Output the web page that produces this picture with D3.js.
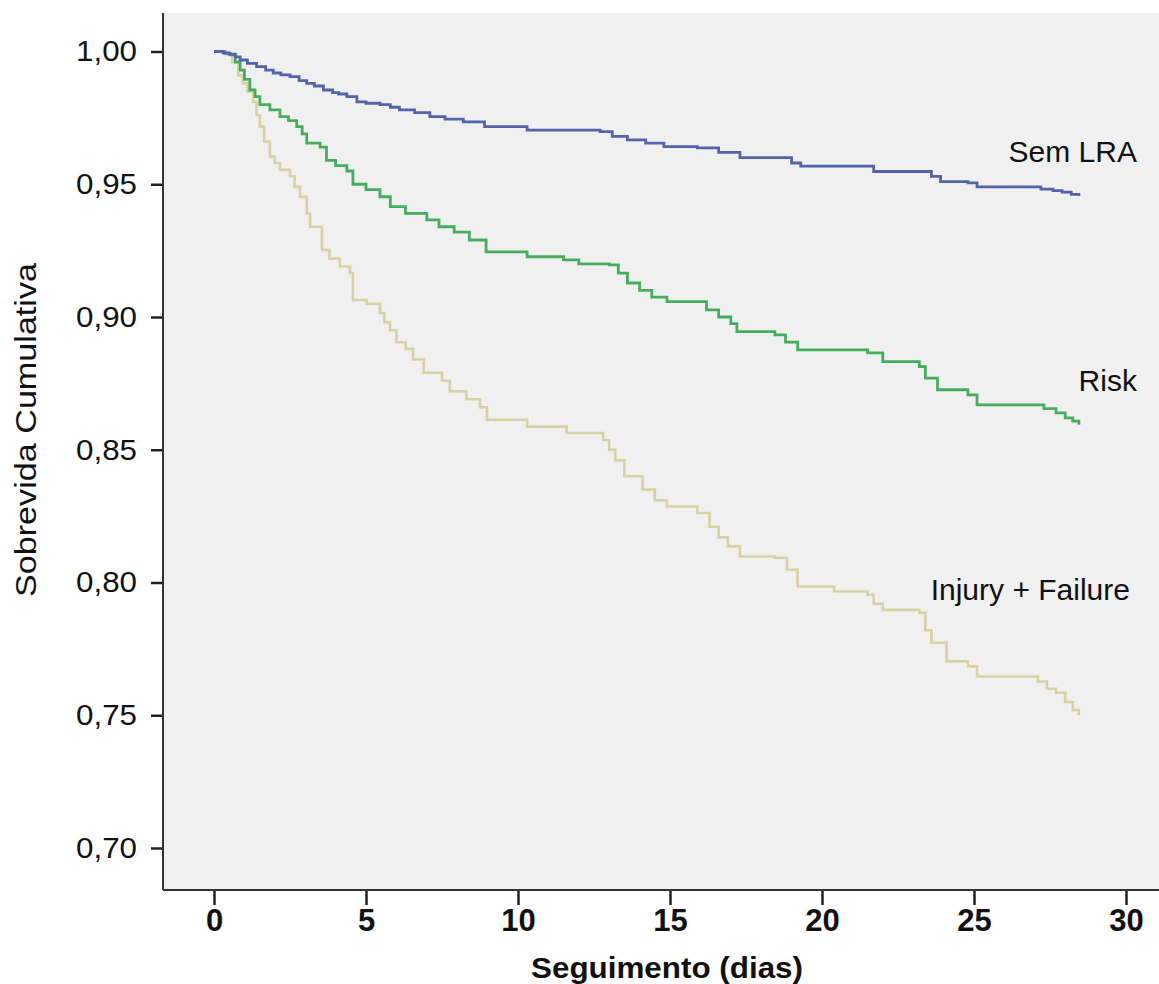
<!DOCTYPE html>
<html>
<head>
<meta charset="utf-8">
<script src="https://cdn.jsdelivr.net/npm/d3@7"></script>
<style>
  body { margin: 0; background: #fff; }
  text { font-family: Arial, "Liberation Sans", sans-serif; fill: #111; }
</style>
</head>
<body>
<div id="chart"></div>
<script>
// Kaplan-Meier curves, values
var semTime = [0, 0.3, 0.5, 0.7, 0.86, 1.1, 1.4, 1.7, 1.95, 2.2, 2.5, 2.8, 3.05, 3.3, 3.6, 3.9, 4.1, 4.37, 4.7, 5.0, 5.46, 5.8, 6.1, 6.6, 7.1, 7.6, 8.2, 8.9, 10.3, 12.7, 13.1, 13.6, 14.2, 14.8, 15.9, 16.6, 17.3, 19.0, 19.3, 21.7, 23.6, 23.9, 24.8, 25.1, 27.2, 27.6, 27.9, 28.2, 28.45];
var semSurv = [1.000, 0.9995, 0.999, 0.998, 0.9968, 0.9955, 0.9943, 0.993, 0.9919, 0.9912, 0.9905, 0.989, 0.988, 0.987, 0.9855, 0.9845, 0.984, 0.983, 0.981, 0.9805, 0.980, 0.979, 0.978, 0.977, 0.9755, 0.9745, 0.9735, 0.9717, 0.9704, 0.9698, 0.968, 0.9667, 0.9655, 0.9642, 0.9637, 0.962, 0.960, 0.958, 0.9568, 0.9548, 0.953, 0.951, 0.9505, 0.949, 0.9482, 0.9476, 0.947, 0.9462, 0.9456];

var riskTime = [0, 0.35, 0.53, 0.7, 0.86, 1.0, 1.18, 1.35, 1.51, 1.84, 2.17, 2.45, 2.72, 2.9, 3.05, 3.49, 3.7, 4.0, 4.37, 4.57, 5.0, 5.46, 5.8, 6.3, 7.0, 7.4, 7.9, 8.4, 8.95, 10.3, 11.5, 12.0, 13.0, 13.3, 13.6, 14.0, 14.4, 14.9, 16.2, 16.6, 17.0, 17.2, 18.45, 18.8, 19.2, 21.5, 22.0, 23.2, 23.4, 23.8, 24.8, 25.1, 27.3, 27.7, 28.0, 28.25, 28.45];
var riskSurv = [1.000, 0.9993, 0.9987, 0.996, 0.993, 0.9895, 0.9855, 0.983, 0.980, 0.978, 0.9755, 0.974, 0.9717, 0.969, 0.9655, 0.964, 0.959, 0.957, 0.955, 0.950, 0.948, 0.9453, 0.9416, 0.939, 0.9366, 0.934, 0.932, 0.929, 0.9245, 0.9227, 0.9215, 0.920, 0.9196, 0.9165, 0.9128, 0.910, 0.9075, 0.9058, 0.9027, 0.900, 0.8975, 0.8945, 0.8933, 0.8905, 0.8876, 0.8865, 0.8832, 0.8813, 0.877, 0.8726, 0.8707, 0.8669, 0.8655, 0.8639, 0.862, 0.8608, 0.8594];

var injTime = [0, 0.4, 0.6, 0.8, 0.95, 1.1, 1.29, 1.4, 1.51, 1.65, 1.84, 2.0, 2.17, 2.5, 2.65, 2.83, 3.05, 3.16, 3.55, 3.8, 4.14, 4.47, 4.57, 5.02, 5.46, 5.6, 5.79, 6.0, 6.3, 6.55, 6.9, 7.5, 7.76, 8.3, 8.75, 8.98, 10.3, 11.6, 12.8, 13.0, 13.2, 13.5, 14.1, 14.5, 14.9, 15.9, 16.3, 16.6, 16.9, 17.3, 18.45, 18.85, 19.2, 20.4, 21.5, 21.7, 22.0, 23.2, 23.4, 23.6, 24.1, 24.8, 25.1, 27.1, 27.4, 27.7, 28.0, 28.25, 28.45];
var injSurv = [1.000, 0.999, 0.996, 0.991, 0.988, 0.985, 0.981, 0.976, 0.9717, 0.966, 0.9604, 0.958, 0.9554, 0.953, 0.949, 0.9453, 0.939, 0.934, 0.9253, 0.922, 0.919, 0.9166, 0.9064, 0.905, 0.9015, 0.898, 0.895, 0.8905, 0.888, 0.884, 0.879, 0.876, 0.872, 0.869, 0.866, 0.8613, 0.8587, 0.8563, 0.8537, 0.850, 0.846, 0.840, 0.835, 0.831, 0.8286, 0.8262, 0.821, 0.817, 0.8136, 0.8098, 0.8093, 0.8048, 0.7985, 0.7966, 0.7954, 0.792, 0.7897, 0.7886, 0.782, 0.7773, 0.7703, 0.7684, 0.7646, 0.7627, 0.760, 0.7585, 0.755, 0.752, 0.750];

var seriesNames = ["Sem LRA", "Risk", "Injury + Failure"];
var seriesColors = ["#5462a9", "#45ad5e", "#d6d2a4"];
var seriesWidths = [2.8, 2.8, 2.6];
// where each name sits, in data units (right end, baseline)
var labelTime = [30.36, 30.36, 30.13];
var labelSurv = [0.9584, 0.8722, 0.7935];

var xTicks = [0, 5, 10, 15, 20, 25, 30];
var yTicks = [0.70, 0.75, 0.80, 0.85, 0.90, 0.95, 1.00];

var w = 1159,
    h = 984,
    plotLeft = 163,
    plotTop = 13,
    plotBottom = 890;

var svg = d3.select("#chart")
    .append("svg")
    .attr("width", w)
    .attr("height", h);

var x = d3.scaleLinear().domain([0, 30]).range([214, 1126]);
var y = d3.scaleLinear().domain([0.70, 1.00]).range([848, 51.5]);

// grey plot background
svg.append("rect")
    .attr("x", plotLeft)
    .attr("y", plotTop)
    .attr("width", w - plotLeft)
    .attr("height", plotBottom - plotTop)
    .attr("fill", "#f0f0f0");

var comma = function(d) { return d3.format(".2f")(d).replace(".", ","); };

var yAxis = svg.append("g")
    .attr("transform", "translate(" + plotLeft + ",0)")
    .call(d3.axisLeft(y).tickValues(yTicks).tickFormat(comma)
        .tickSize(12).tickSizeOuter(0).tickPadding(14));
yAxis.select(".domain").remove();
yAxis.selectAll(".tick line").attr("stroke", "#222").attr("stroke-width", 2.5);
yAxis.selectAll(".tick text")
    .style("font-size", "29px")
    .attr("fill", "#111")
    .attr("textLength", 61)
    .attr("lengthAdjust", "spacingAndGlyphs");

var xAxis = svg.append("g")
    .attr("transform", "translate(0," + plotBottom + ")")
    .call(d3.axisBottom(x).tickValues(xTicks).tickFormat(d3.format("d"))
        .tickSize(15).tickSizeOuter(0).tickPadding(4));
xAxis.select(".domain").remove();
xAxis.selectAll(".tick line").attr("stroke", "#222").attr("stroke-width", 2.5);
xAxis.selectAll(".tick text")
    .style("font-size", "31px")
    .style("font-weight", "bold")
    .attr("fill", "#111");

// axis lines run the full plot edge
svg.append("line")
    .attr("x1", plotLeft).attr("x2", plotLeft)
    .attr("y1", plotTop).attr("y2", plotBottom)
    .attr("stroke", "#333").attr("stroke-width", 2);
svg.append("line")
    .attr("x1", plotLeft).attr("x2", w)
    .attr("y1", plotBottom).attr("y2", plotBottom)
    .attr("stroke", "#333").attr("stroke-width", 2);

var series = [
    { name: seriesNames[0], t: semTime, s: semSurv, color: seriesColors[0], sw: seriesWidths[0] },
    { name: seriesNames[1], t: riskTime, s: riskSurv, color: seriesColors[1], sw: seriesWidths[1] },
    { name: seriesNames[2], t: injTime, s: injSurv, color: seriesColors[2], sw: seriesWidths[2] }
];

var line = d3.line()
    .x(function(d) { return x(d[0]); })
    .y(function(d) { return y(d[1]); })
    .curve(d3.curveStepAfter);

// draw tan first so the other curves sit on top at the start
svg.selectAll("path.km")
    .data(series.slice().reverse())
    .enter().append("path")
    .attr("class", "km")
    .attr("fill", "none")
    .attr("stroke", function(d) { return d.color; })
    .attr("stroke-width", function(d) { return d.sw; })
    .attr("d", function(d) { return line(d3.zip(d.t, d.s)); });

svg.selectAll("text.lbl")
    .data(series)
    .enter().append("text")
    .attr("class", "lbl")
    .attr("x", function(d, i) { return x(labelTime[i]); })
    .attr("y", function(d, i) { return y(labelSurv[i]); })
    .attr("text-anchor", "end")
    .style("font-size", "30px")
    .text(function(d) { return d.name; });

// axis titles
svg.append("text")
    .attr("x", 667)
    .attr("y", 978)
    .attr("text-anchor", "middle")
    .style("font-size", "30px")
    .style("font-weight", "bold")
    .attr("textLength", 272)
    .attr("lengthAdjust", "spacingAndGlyphs")
    .text("Seguimento (dias)");

svg.append("text")
    .attr("transform", "translate(36,430) rotate(-90)")
    .attr("text-anchor", "middle")
    .style("font-size", "29px")
    .attr("textLength", 334)
    .attr("lengthAdjust", "spacingAndGlyphs")
    .text("Sobrevida Cumulativa");
</script>
</body>
</html>
